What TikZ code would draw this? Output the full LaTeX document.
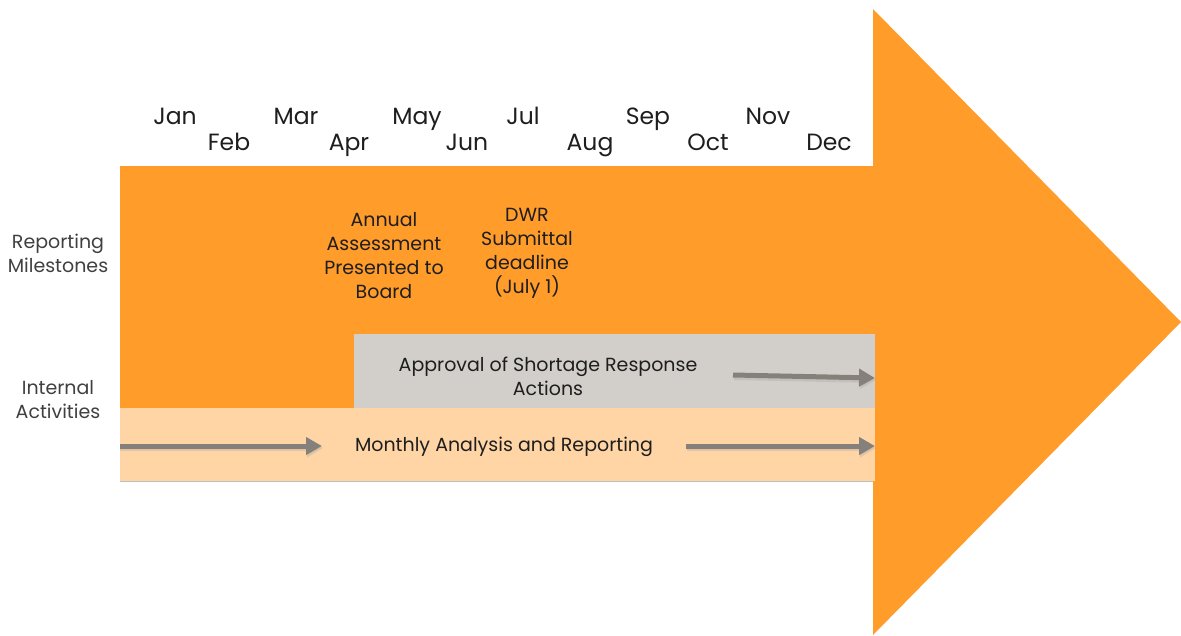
\documentclass[tikz,border=0pt]{standalone}
\usepackage{fontspec}
\setmainfont{Poppins}
\usetikzlibrary{arrows.meta}
\definecolor{orangeA}{HTML}{FF9C2A}
\definecolor{grayBox}{HTML}{D2CFCA}
\definecolor{peach}{HTML}{FFD5A5}
\definecolor{arrowGray}{HTML}{85817A}
\definecolor{txt}{HTML}{1E1E1E}
\tikzset{
  month/.style={font=\fontsize{23.5}{27}\selectfont, text=txt, inner sep=0pt, anchor=base},
  inner/.style={font=\fontsize{19}{24}\selectfont, text=txt, align=center, inner sep=0pt},
  side/.style={font=\fontsize{19}{24}\selectfont, text=txt!85, align=center, inner sep=0pt},
  flow/.style={draw=arrowGray, line width=5pt, -{Triangle[length=16pt,width=17pt]}},
  flowshadow/.style={draw=black!35, line width=6pt, -{Triangle[length=16pt,width=18pt]}, opacity=0.35}
}
\begin{document}
\begin{tikzpicture}[x=1pt,y=-1pt]
\useasboundingbox (0,0) rectangle (1181,635);
\fill[white] (0,0) rectangle (1181,635);
% big arrow
\fill[orangeA] (120,166) -- (873,166) -- (873,9) -- (1181,322) -- (873,635) -- (873,481) -- (120,481) -- cycle;
% boxes
\fill[grayBox] (354,334) rectangle (875,408);
\fill[peach] (120,408) rectangle (875,481);
\draw[black!25, line width=0.8pt] (120,481) -- (873,481);
% months
\node[month] (jan) at (175,124) {Jan};
\node[month] (feb) at (229,150) {Feb};
\node[month] (mar) at (296,124) {Mar};
\node[month] (apr) at (349,150) {Apr};
\node[month] (may) at (417,124) {May};
\node[month] (jun) at (467,150) {Jun};
\node[month] (jul) at (523,124) {Jul};
\node[month] (aug) at (590,150) {Aug};
\node[month] (sep) at (648,124) {Sep};
\node[month] (oct) at (708,150) {Oct};
\node[month] (nov) at (768,124) {Nov};
\node[month] (dec) at (829,150) {Dec};
% side labels
\node[side] (rep) at (58,253) {Reporting\\Milestones};
\node[side] (int) at (58,400) {Internal\\Activities};
% milestones
\node[inner] (annual) at (384,256) {Annual\\Assessment\\Presented to\\Board};
\node[inner] (dwr) at (527,253) {DWR\\Submittal\\deadline\\(July 1)};
% activities
\node[inner] (appr) at (548,376) {Approval of Shortage Response\\Actions};
\node[inner] (month) at (504,447) {Monthly Analysis and Reporting};
% arrow coordinates
\coordinate (a1s) at (733,375);
\coordinate (a1e) at (875,378);
\coordinate (a2s) at (686,446);
\coordinate (a2e) at (875,446);
\coordinate (a3s) at (120,446);
\coordinate (a3e) at (322,446);
\coordinate (a1ss) at (734,377);
\coordinate (a1es) at (876,380);
\coordinate (a2ss) at (687,448);
\coordinate (a2es) at (876,448);
\coordinate (a3ss) at (120,448);
\coordinate (a3es) at (323,448);
\draw[flowshadow] (a1ss) -- (a1es);
\draw[flowshadow] (a2ss) -- (a2es);
\draw[flowshadow] (a3ss) -- (a3es);
\draw[flow] (a1s) -- (a1e);
\draw[flow] (a2s) -- (a2e);
\draw[flow] (a3s) -- (a3e);
\end{tikzpicture}
\end{document}
